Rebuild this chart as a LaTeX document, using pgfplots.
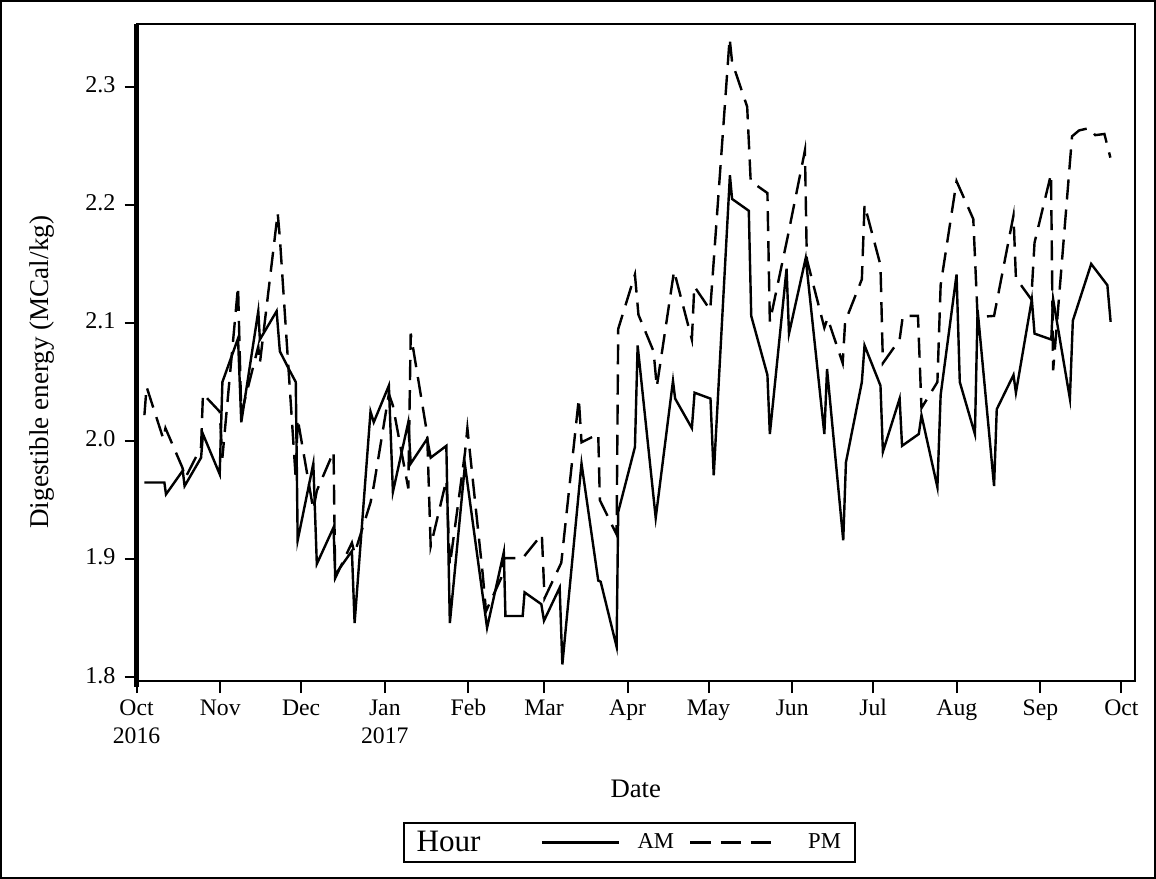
\documentclass[border=0pt]{standalone}
\usepackage{pgfplots}
\pgfplotsset{compat=1.18}
\usepackage{fontspec}
\setmainfont{Liberation Serif}
\pgfplotsset{
  amimg/.style={legend image code/.code={\draw[##1] (0pt,0pt) -- (38.5pt,0pt);}},
  pmimg/.style={legend image code/.code={\draw[##1] (0pt,0pt) -- (43pt,0pt);}},
}

\begin{document}
\begin{tikzpicture}
\begin{axis}[
  scale only axis,
  width=497pt, height=327pt,
  xmin=0, xmax=370,
  ymin=1.797, ymax=2.353,
  axis line style={line width=1pt},
  tick align=outside,
  xtick pos=left, ytick pos=left,
  major tick length=6pt,
  every tick/.style={black, line width=1pt},
  xtick={0,31,61,92,123,151,182,212,243,273,304,335,365},
  xticklabels={{Oct\\2016},Nov,Dec,{Jan\\2017},Feb,Mar,Apr,May,Jun,Jul,Aug,Sep,Oct},
  xticklabel style={align=center, anchor=north, font=\fontsize{11.8}{14}\selectfont, yshift=2pt},
  typeset ticklabels with strut,
  ytick={1.8,1.9,2.0,2.1,2.2,2.3},
  yticklabels={1.8,1.9,2.0,2.1,2.2,2.3},
  yticklabel style={font=\fontsize{12}{14}\selectfont, xshift=-1pt},
  xlabel={Date},
  ylabel={Digestible energy (MCal/kg)},
  every axis x label/.style={at={(axis description cs:0.5,-0.1636)}, anchor=center, font=\fontsize{13.3}{15}\selectfont},
  every axis y label/.style={at={(axis description cs:-0.0946,0.47)}, anchor=center, rotate=90, font=\fontsize{13.5}{15}\selectfont},
  legend columns=-1,
  legend style={at={(axis description cs:0.494,-0.2462)}, anchor=center,
    draw=black, line width=1pt, inner xsep=0pt, inner ysep=2pt,
    column sep=0pt,
    nodes={inner xsep=0pt, inner ysep=2pt, font=\fontsize{11.3}{13}\selectfont}},
]
\addlegendimage{empty legend}
\addlegendentry{\hspace*{6pt}{\fontsize{15.5}{15}\selectfont Hour}\hspace*{30pt}}

\addplot[black, line width=1.2pt, amimg] coordinates {
(2.9,1.965) (10.3,1.965) (10.9,1.955) (17.1,1.975) (17.8,1.962) (23.9,1.986) (24.6,2.006)
(30.8,1.972) (31.8,2.050) (37.6,2.087) (38.8,2.016) (45.1,2.110) (45.7,2.086) (51.9,2.110)
(53.1,2.076) (56.9,2.059) (59.0,2.050) (59.7,1.916) (65.5,1.981) (66.8,1.896) (73.0,1.927)
(73.6,1.887) (79.8,1.907) (80.8,1.846) (86.7,2.025) (87.9,2.016) (93.5,2.047) (95.0,1.957)
(100.7,2.016) (101.6,1.981) (107.7,2.002) (109.0,1.986) (114.8,1.996) (116.1,1.846)
(121.7,1.980) (129.9,1.842) (136.1,1.906) (136.7,1.852) (143.1,1.852) (143.8,1.872)
(150.0,1.862) (151.0,1.848) (156.8,1.876) (157.8,1.811) (164.9,1.981) (171.1,1.882)
(172.0,1.881) (177.9,1.826) (178.5,1.940) (184.7,1.995) (185.7,2.081) (192.4,1.935)
(198.8,2.051) (199.6,2.036) (205.8,2.011) (206.8,2.041) (212.7,2.036) (213.9,1.971)
(219.9,2.225) (220.7,2.205) (226.9,2.195) (227.8,2.106) (233.8,2.056) (234.7,2.006)
(240.9,2.146) (241.8,2.091) (248.0,2.155) (254.9,2.006) (255.9,2.061) (261.9,1.916)
(262.9,1.982) (268.8,2.050) (269.8,2.081) (275.7,2.047) (276.6,1.991) (282.8,2.036)
(283.7,1.996) (289.9,2.006) (290.9,2.022) (296.8,1.961) (298.0,2.039) (303.9,2.141)
(305.1,2.050) (310.7,2.006) (311.7,2.111) (317.8,1.962) (318.8,2.027) (325.0,2.056)
(325.9,2.041) (331.8,2.120) (332.8,2.091) (339.0,2.086) (339.7,2.120) (345.9,2.036)
(347.0,2.102) (353.8,2.150) (359.8,2.132) (361.0,2.101)
};
\addlegendentry{\hspace*{8.5pt}AM\hspace*{7.5pt}}

\addplot[black, line width=1.2pt, dash pattern=on 10pt off 5pt, pmimg] coordinates {
(2.9,2.022) (3.7,2.046) (9.9,2.002) (10.7,2.011) (16.9,1.978) (18.1,1.969) (23.9,1.995)
(24.6,2.040) (30.8,2.025) (31.8,1.986) (37.6,2.131) (38.8,2.023) (45.1,2.080) (45.7,2.066)
(52.3,2.193) (53.1,2.172) (59.0,1.968) (59.7,2.019) (65.5,1.942) (66.8,1.958) (73.0,1.991)
(73.6,1.884) (79.8,1.914) (80.8,1.905) (86.7,1.948) (87.9,1.962) (93.5,2.040) (95.0,2.030)
(100.7,1.960) (101.6,2.091) (107.7,2.006) (109.0,1.911) (114.8,1.967) (116.1,1.895)
(121.7,1.990) (122.6,2.011) (128.3,1.887) (129.5,1.856) (135.1,1.884) (136.3,1.901)
(143.1,1.901) (150.2,1.921) (151.2,1.867) (157.4,1.897) (163.9,2.036) (164.9,1.999)
(171.1,2.006) (171.7,1.950) (177.9,1.921) (178.5,2.095) (184.7,2.141) (186.0,2.107)
(191.6,2.076) (192.8,2.046) (199.2,2.144) (205.8,2.086) (206.7,2.131) (212.6,2.111)
(219.8,2.341) (220.7,2.321) (226.3,2.283) (227.6,2.220) (233.8,2.210) (234.7,2.101)
(241.5,2.175) (247.7,2.246) (248.4,2.154) (254.9,2.096) (256.1,2.104) (261.7,2.066)
(262.6,2.101) (268.8,2.137) (269.8,2.200) (275.7,2.149) (276.6,2.066) (282.8,2.086)
(284.0,2.106) (289.6,2.106) (290.9,2.028) (296.8,2.050) (298.0,2.132) (303.9,2.220)
(310.1,2.188) (311.7,2.105) (317.8,2.106) (325.0,2.191) (325.9,2.138) (331.6,2.120)
(332.8,2.168) (338.9,2.226) (339.7,2.060) (346.7,2.258) (349.3,2.263) (353.1,2.265)
(355.3,2.259) (358.7,2.260) (360.9,2.240)
};
\addlegendentry{\hspace*{15pt}PM\hspace*{7pt}}
\end{axis}
\draw[line width=2.6pt] ([yshift=-3pt]current axis.south west) -- (current axis.north west);
\draw[line width=1pt] ([xshift=-67.5pt,yshift=-98pt]current axis.south west) rectangle ([xshift=10pt,yshift=11.5pt]current axis.north east);
\end{tikzpicture}
\end{document}
